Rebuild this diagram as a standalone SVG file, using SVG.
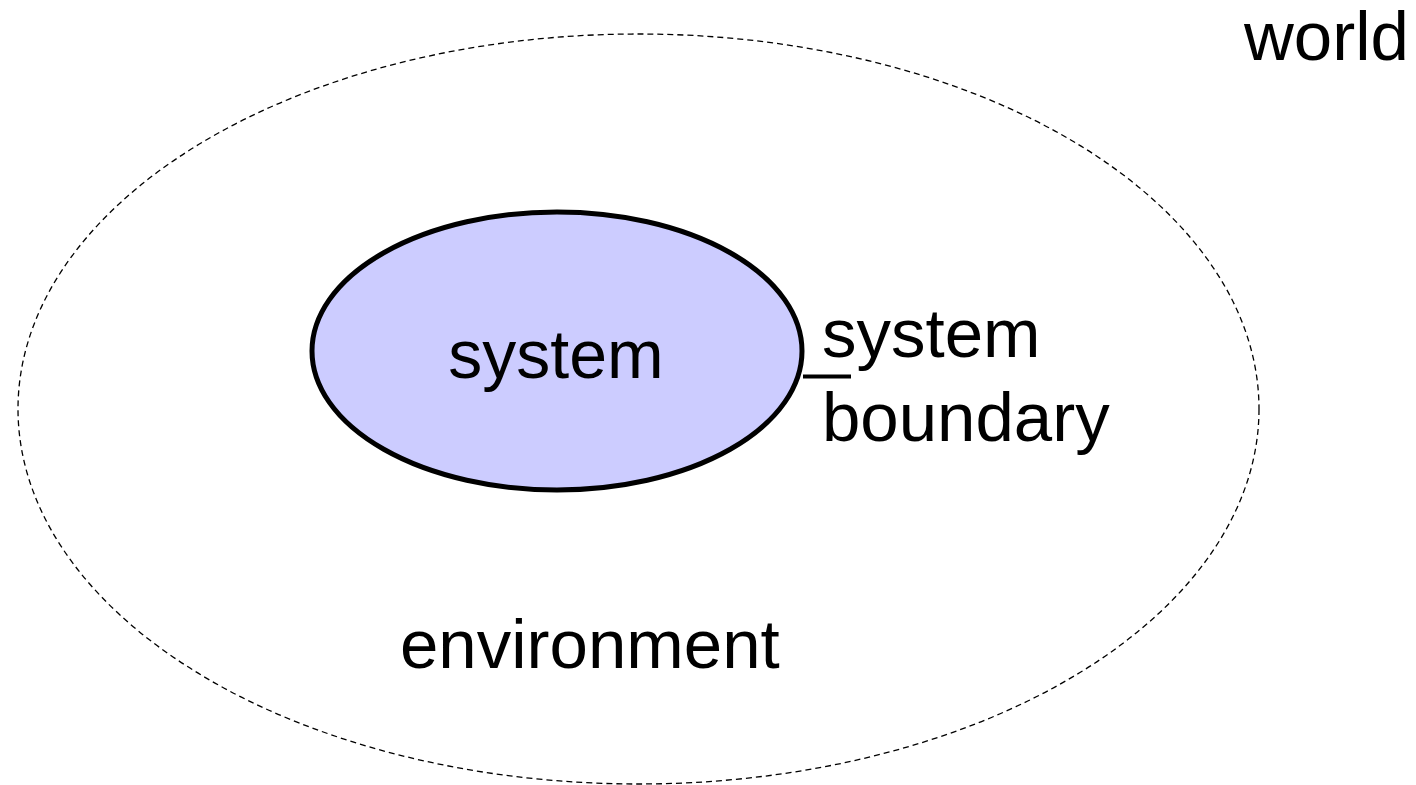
<svg xmlns="http://www.w3.org/2000/svg" width="1416" height="785" viewBox="0 0 1416 785">
  <style>
    .label { font-family: "Liberation Sans", Arial, sans-serif; font-size: 68px; fill: #000; }
    .big { font-size: 69px; }
  </style>
  <rect width="1416" height="785" fill="#fff"/>
  <!-- environment boundary -->
  <g id="environment">
    <ellipse cx="638.5" cy="409" rx="620.5" ry="375" fill="none" stroke="#000" stroke-width="1.3" stroke-dasharray="6 4"/>
    <text class="label big" x="400" y="668">environment</text>
  </g>
  <!-- the system itself -->
  <g id="system">
    <ellipse cx="557" cy="351" rx="245" ry="139" fill="#ccccff" stroke="#000" stroke-width="5"/>
    <text class="label" x="556" y="378" text-anchor="middle">system</text>
  </g>
  <g id="connectors">
    <line x1="803" y1="376.5" x2="851" y2="376.5" stroke="#000" stroke-width="4"/>
  </g>
  <g id="system-boundary">
    <text class="label big" x="822" y="357">system</text>
    <text class="label big" x="822" y="441">boundary</text>
  </g>
  <g id="world">
    <text class="label big" x="1244" y="60">world</text>
  </g>
</svg>
